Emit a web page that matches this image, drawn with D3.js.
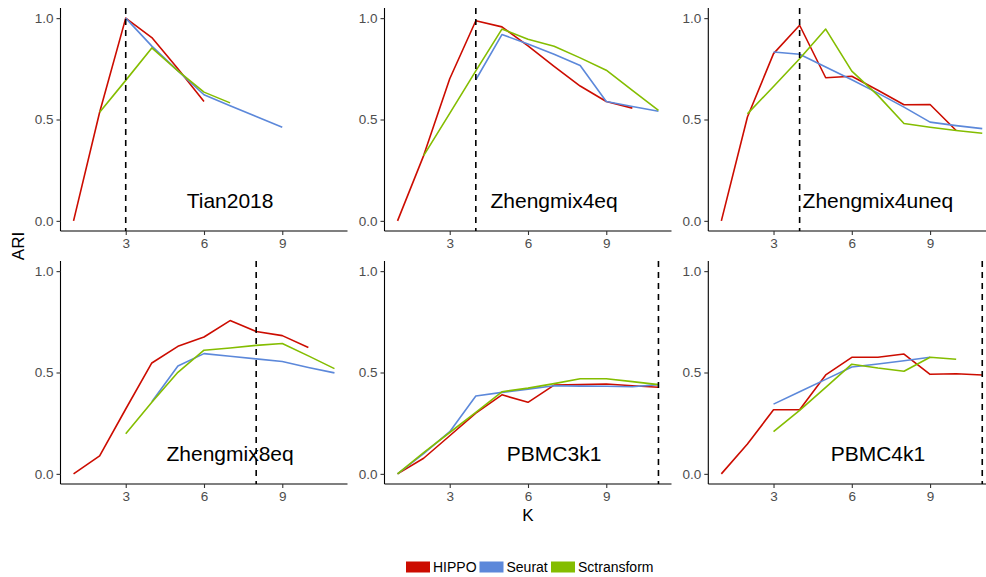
<!DOCTYPE html>
<html>
<head>
<meta charset="utf-8">
<script src="https://cdn.jsdelivr.net/npm/d3@7"></script>
<style>
  html, body { margin: 0; padding: 0; background: #fff; }
  svg { display: block; font-family: "Liberation Sans", Arial, sans-serif; }
</style>
</head>
<body>
<svg id="chart" width="986" height="577"></svg>
<script>
// ---- data ----
const datasets = ["Tian2018", "Zhengmix4eq", "Zhengmix4uneq", "Zhengmix8eq", "PBMC3k1", "PBMC4k1"];
const methods = ["HIPPO", "Seurat", "Sctransform"];
const Kvalues = [1, 2, 3, 4, 5, 6, 7, 8, 9, 10, 11];
const trueK = [3, 4, 4, 8, 11, 11];
const xTicks = [3, 6, 9];
const yTicks = [0.0, 0.5, 1.0];

const hippoARI = [
  [0, 0.536, 1.0, 0.904, 0.75, 0.589, null, null, null, null, null],
  [0, 0.322, 0.701, 0.987, 0.957, 0.863, 0.762, 0.665, 0.589, 0.556, null],
  [0, 0.512, 0.825, 0.965, 0.706, 0.713, 0.644, 0.573, 0.574, 0.446, null],
  [0, 0.089, 0.32, 0.547, 0.629, 0.675, 0.756, 0.702, 0.682, 0.623, null],
  [0, 0.077, 0.188, 0.30, 0.39, 0.353, 0.438, 0.44, 0.443, 0.435, 0.427],
  [0, 0.147, 0.316, 0.316, 0.488, 0.575, 0.575, 0.591, 0.491, 0.494, 0.488]
];
const seuratARI = [
  [null, null, 1.0, 0.862, 0.74, 0.622, 0.568, 0.515, 0.462, null, null],
  [null, null, null, 0.696, 0.919, 0.873, 0.822, 0.766, 0.589, 0.564, 0.541],
  [null, null, 0.833, 0.822, 0.759, 0.696, 0.630, 0.561, 0.487, 0.47, 0.455],
  [null, null, null, 0.356, 0.532, 0.593, 0.58, 0.567, 0.554, 0.525, 0.498],
  [0, 0.1, 0.208, 0.384, 0.402, 0.418, 0.435, 0.433, 0.432, 0.43, 0.44],
  [null, null, 0.344, 0.405, 0.466, 0.527, 0.542, 0.558, 0.575, null, null]
];
const sctransformARI = [
  [null, 0.536, 0.693, 0.853, 0.74, 0.635, 0.582, null, null, null, null],
  [null, 0.322, 0.53, 0.74, 0.946, 0.896, 0.861, 0.804, 0.743, 0.644, 0.545],
  [null, 0.528, 0.663, 0.80, 0.946, 0.739, 0.619, 0.48, 0.462, 0.446, 0.432],
  [null, null, 0.198, 0.353, 0.501, 0.61, 0.621, 0.634, 0.643, 0.582, 0.519],
  [0, 0.105, 0.204, 0.303, 0.405, 0.423, 0.445, 0.469, 0.469, 0.455, 0.44],
  [null, null, 0.208, 0.313, 0.427, 0.541, 0.522, 0.506, 0.575, 0.565, null]
];
const seriesValues = [hippoARI, seuratARI, sctransformARI];

// ---- styles / layout ----
const colors = ["#CC0C00", "#5C88DA", "#84BD00"];
const panelLefts = [60.5, 384.5, 708.3];
const panelWidth = 287;
const rowTops = [8, 261];
const panelHeight = 223;

const svg = d3.select("#chart");
const color = d3.scaleOrdinal().domain(methods).range(colors);

datasets.forEach((name, i) => {
  const col = i % 3, row = Math.floor(i / 3);
  const x0 = panelLefts[col], y0 = rowTops[row];
  const x = d3.scaleLinear().domain([0.5, 11.5]).range([x0, x0 + panelWidth]);
  const y = d3.scaleLinear().domain([-0.05, 1.05]).range([y0 + panelHeight, y0]);
  const g = svg.append("g");

  // lines
  methods.forEach((m, mi) => {
    const pts = Kvalues.map((k, j) => ({ k, v: seriesValues[mi][i][j] })).filter(d => d.v != null);
    g.append("path")
      .datum(pts)
      .attr("fill", "none")
      .attr("stroke", color(m))
      .attr("stroke-width", 1.6)
      .attr("stroke-linejoin", "round")
      .attr("d", d3.line().x(d => x(d.k)).y(d => y(d.v)));
  });

  // dashed vertical line
  g.append("line")
    .attr("x1", x(trueK[i])).attr("x2", x(trueK[i]))
    .attr("y1", y0).attr("y2", y0 + panelHeight)
    .attr("stroke", "#000").attr("stroke-width", 1.6)
    .attr("stroke-dasharray", "6,5");

  // panel label
  g.append("text")
    .attr("x", x(7)).attr("y", y(0.1))
    .attr("dy", "0.36em")
    .attr("text-anchor", "middle")
    .attr("font-size", 21)
    .attr("fill", "#000")
    .text(name);

  // axes
  const xAxis = d3.axisBottom(x).tickValues(xTicks).tickSize(4).tickPadding(3).tickFormat(d3.format("d"));
  const yAxis = d3.axisLeft(y).tickValues(yTicks).tickSize(4).tickPadding(3).tickFormat(d3.format(".1f"));
  const gx = g.append("g").attr("transform", `translate(0,${y0 + panelHeight})`).call(xAxis);
  const gy = g.append("g").attr("transform", `translate(${x0},0)`).call(yAxis);
  [gx, gy].forEach(a => {
    a.attr("font-size", null).attr("font-family", null);
    a.select(".domain").attr("stroke", "#000").attr("stroke-width", 1.1)
      .attr("d", a === gx ? `M${x0},0H${x0 + panelWidth}` : `M0,${y0}V${y0 + panelHeight}`);
    a.selectAll(".tick line").attr("stroke", "#333").attr("stroke-width", 1.1);
    a.selectAll(".tick text").attr("fill", "#4D4D4D")
      .style("font-size", "13.5px")
      .style("font-family", "'Liberation Sans', Arial, sans-serif");
  });
});

// axis titles
svg.append("text")
  .attr("x", 528).attr("y", 515).attr("dy", "0.36em")
  .attr("text-anchor", "middle").attr("font-size", 17).text("K");
svg.append("text")
  .attr("transform", "translate(18,246) rotate(-90)")
  .attr("dy", "0.36em")
  .attr("text-anchor", "middle").attr("font-size", 17).text("ARI");

// legend
const legendX = [406, 479.5, 551];
const leg = svg.append("g");
methods.forEach((m, mi) => {
  leg.append("rect")
    .attr("x", legendX[mi]).attr("y", 561.5)
    .attr("width", 24).attr("height", 11)
    .attr("fill", color(m));
  leg.append("text")
    .attr("x", legendX[mi] + 27).attr("y", 567).attr("dy", "0.36em")
    .attr("font-size", 14).attr("fill", "#000").text(m);
});
</script>
</body>
</html>
